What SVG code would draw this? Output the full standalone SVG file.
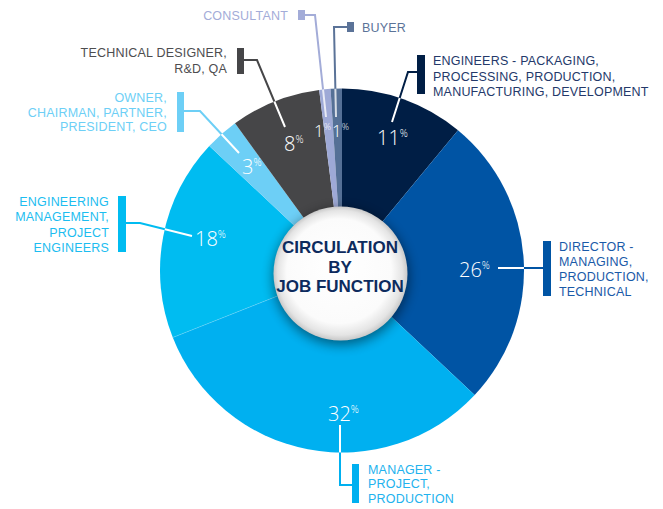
<svg xmlns="http://www.w3.org/2000/svg" width="663" height="509" viewBox="0 0 663 509">
<defs>
<style>
.lbl{font-family:"Liberation Sans",Arial,sans-serif;font-size:12.5px;letter-spacing:0.2px}
.pct{font-family:"Open Sans","Liberation Sans",sans-serif;font-weight:300;font-size:20px;fill:#ffffff}
.sm{font-size:17px}
.sup{font-size:10px}
.sup2{font-size:9px}
.ttl{font-family:"Liberation Sans",Arial,sans-serif;font-weight:bold;font-size:17px;fill:#0d2b5e;text-anchor:middle}
.ld{fill:none;stroke-width:2}
.wl{fill:none;stroke:#ffffff;stroke-width:2}
</style>
<clipPath id="pieClip"><circle cx="342" cy="270.5" r="182"/></clipPath>
<filter id="blur" x="-50%" y="-50%" width="200%" height="200%"><feGaussianBlur stdDeviation="6"/></filter>
<radialGradient id="ball" cx="0.5" cy="0.5" r="0.5" fx="0.45" fy="0.42">
<stop offset="0" stop-color="#ffffff"/>
<stop offset="0.78" stop-color="#fbfbfb"/>
<stop offset="0.93" stop-color="#e4e4e4"/>
<stop offset="1" stop-color="#c9c9c9"/>
</radialGradient>
</defs>
<rect width="663" height="509" fill="#ffffff"/>

<g id="pie">
<path id="s-engineers" d="M342 270.5 L342 88.5 A182 182 0 0 1 458.01 130.27 Z" fill="#001e45"/>
<path id="s-director" d="M342 270.5 L458.01 130.27 A182 182 0 0 1 474.67 395.09 Z" fill="#0054a4"/>
<path id="s-manager" d="M342 270.5 L474.67 395.09 A182 182 0 0 1 172.78 337.5 Z" fill="#00b0f0"/>
<path id="s-engmgmt" d="M342 270.5 L172.78 337.5 A182 182 0 0 1 209.33 145.91 Z" fill="#00bcf1"/>
<path id="s-owner" d="M342 270.5 L209.33 145.91 A182 182 0 0 1 235.02 123.26 Z" fill="#6dcff6"/>
<path id="s-technical" d="M342 270.5 L235.02 123.26 A182 182 0 0 1 319.19 89.94 Z" fill="#464648"/>
<path id="s-consultant" d="M342 270.5 L319.19 89.94 A182 182 0 0 1 330.57 88.86 Z" fill="#9ea9d6"/>
<path id="s-buyer" d="M342 270.5 L330.57 88.86 A182 182 0 0 1 342 88.5 Z" fill="#557096"/>
<line x1="342" y1="270.5" x2="172.78" y2="337.5" stroke="#7fd8f8" stroke-width="0.6" opacity="0.7"/>
</g>

<g id="connectors">
<polyline class="ld" stroke="#a3acd8" points="305,15 315,15 326,117"/>
<polyline class="ld" stroke="#5b7398" points="347,27 334,27 336,117"/>
<polyline class="ld" stroke="#464648" points="244,60 257,60 285,127"/>
<polyline class="ld" stroke="#6dcff6" points="184,111 200,111 239,153"/>
<polyline class="ld" stroke="#00bcf1" points="126,223 140,223 192,236"/>
<polyline class="ld" stroke="#0054a4" points="498,268 543,268"/>
<polyline class="ld" stroke="#00b0f0" points="340,425 340,485 352,485"/>
<polyline class="ld" stroke="#001e45" points="417,72 408,72 392,122"/>
<g clip-path="url(#pieClip)">
<polyline class="wl" opacity="0.75" points="305,15 315,15 326,117"/>
<polyline class="wl" opacity="0.75" points="347,27 334,27 336,117"/>
<polyline class="wl" points="244,60 257,60 285,127"/>
<polyline class="wl" points="184,111 200,111 239,153"/>
<polyline class="wl" points="126,223 140,223 192,236"/>
<polyline class="wl" points="498,268 543,268"/>
<polyline class="wl" points="340,425 340,485 352,485"/>
<polyline class="wl" points="417,72 408,72 392,122"/>
</g>
</g>

<g id="center">
<circle cx="341" cy="277" r="68" fill="#000000" opacity="0.45" filter="url(#blur)"/>
<circle cx="340.5" cy="273.5" r="67" fill="url(#ball)"/>
<text class="ttl" x="340" y="253">CIRCULATION</text>
<text class="ttl" x="340" y="272.5">BY</text>
<text class="ttl" x="340" y="292">JOB FUNCTION</text>
</g>

<g id="n-engineers">
<rect x="417" y="55" width="8" height="39" fill="#001e45"/>
<text class="lbl" fill="#24396a" x="433" y="65">ENGINEERS - PACKAGING,</text>
<text class="lbl" fill="#24396a" x="433" y="80.5">PROCESSING, PRODUCTION,</text>
<text class="lbl" fill="#24396a" x="433" y="96">MANUFACTURING, DEVELOPMENT</text>
<text class="pct" x="377" y="145">11<tspan class="sup" dy="-8">%</tspan></text>
</g>

<g id="n-director">
<rect x="543" y="241" width="8" height="55" fill="#0054a4"/>
<text class="lbl" fill="#1a5aa8" x="559" y="251">DIRECTOR -</text>
<text class="lbl" fill="#1a5aa8" x="559" y="266">MANAGING,</text>
<text class="lbl" fill="#1a5aa8" x="559" y="281">PRODUCTION,</text>
<text class="lbl" fill="#1a5aa8" x="559" y="295.5">TECHNICAL</text>
<text class="pct" x="459" y="277">26<tspan class="sup" dy="-8">%</tspan></text>
</g>

<g id="n-manager">
<rect x="352" y="464" width="7" height="39" fill="#00b0f0"/>
<text class="lbl" fill="#22b2ee" x="368" y="473.5">MANAGER -</text>
<text class="lbl" fill="#22b2ee" x="368" y="488">PROJECT,</text>
<text class="lbl" fill="#22b2ee" x="368" y="502.5">PRODUCTION</text>
<text class="pct" x="328" y="421">32<tspan class="sup" dy="-8">%</tspan></text>
</g>

<g id="n-engmgmt">
<rect x="118" y="196" width="8" height="56" fill="#00bcf1"/>
<text class="lbl" fill="#1cbdf0" text-anchor="end" x="109" y="206">ENGINEERING</text>
<text class="lbl" fill="#1cbdf0" text-anchor="end" x="109" y="221.3">MANAGEMENT,</text>
<text class="lbl" fill="#1cbdf0" text-anchor="end" x="109" y="236.6">PROJECT</text>
<text class="lbl" fill="#1cbdf0" text-anchor="end" x="109" y="252">ENGINEERS</text>
<text class="pct" x="195" y="246">18<tspan class="sup" dy="-8">%</tspan></text>
</g>

<g id="n-owner">
<rect x="177" y="92" width="7" height="40" fill="#6dcff6"/>
<text class="lbl" fill="#6dcff6" text-anchor="end" x="167" y="102">OWNER,</text>
<text class="lbl" fill="#6dcff6" text-anchor="end" x="167" y="116.5">CHAIRMAN, PARTNER,</text>
<text class="lbl" fill="#6dcff6" text-anchor="end" x="167" y="131">PRESIDENT, CEO</text>
<text class="pct" x="242" y="174">3<tspan class="sup" dy="-8">%</tspan></text>
</g>

<g id="n-technical">
<rect x="237" y="48" width="7" height="26" fill="#464648"/>
<text class="lbl" fill="#4d4d4f" text-anchor="end" x="227" y="57">TECHNICAL DESIGNER,</text>
<text class="lbl" fill="#4d4d4f" text-anchor="end" x="227" y="73">R&amp;D, QA</text>
<text class="pct" x="284" y="151">8<tspan class="sup" dy="-8">%</tspan></text>
</g>

<g id="n-consultant">
<rect x="298" y="10" width="7" height="10" fill="#a3acd8"/>
<text class="lbl" fill="#a3acd8" text-anchor="end" x="288" y="20">CONSULTANT</text>
<text class="pct sm" x="314" y="137">1<tspan class="sup2" dy="-7">%</tspan></text>
</g>

<g id="n-buyer">
<rect x="347" y="22" width="7" height="10" fill="#5b7398"/>
<text class="lbl" fill="#5b7398" x="362" y="32">BUYER</text>
<text class="pct sm" x="332" y="137">1<tspan class="sup2" dy="-7">%</tspan></text>
</g>
</svg>
